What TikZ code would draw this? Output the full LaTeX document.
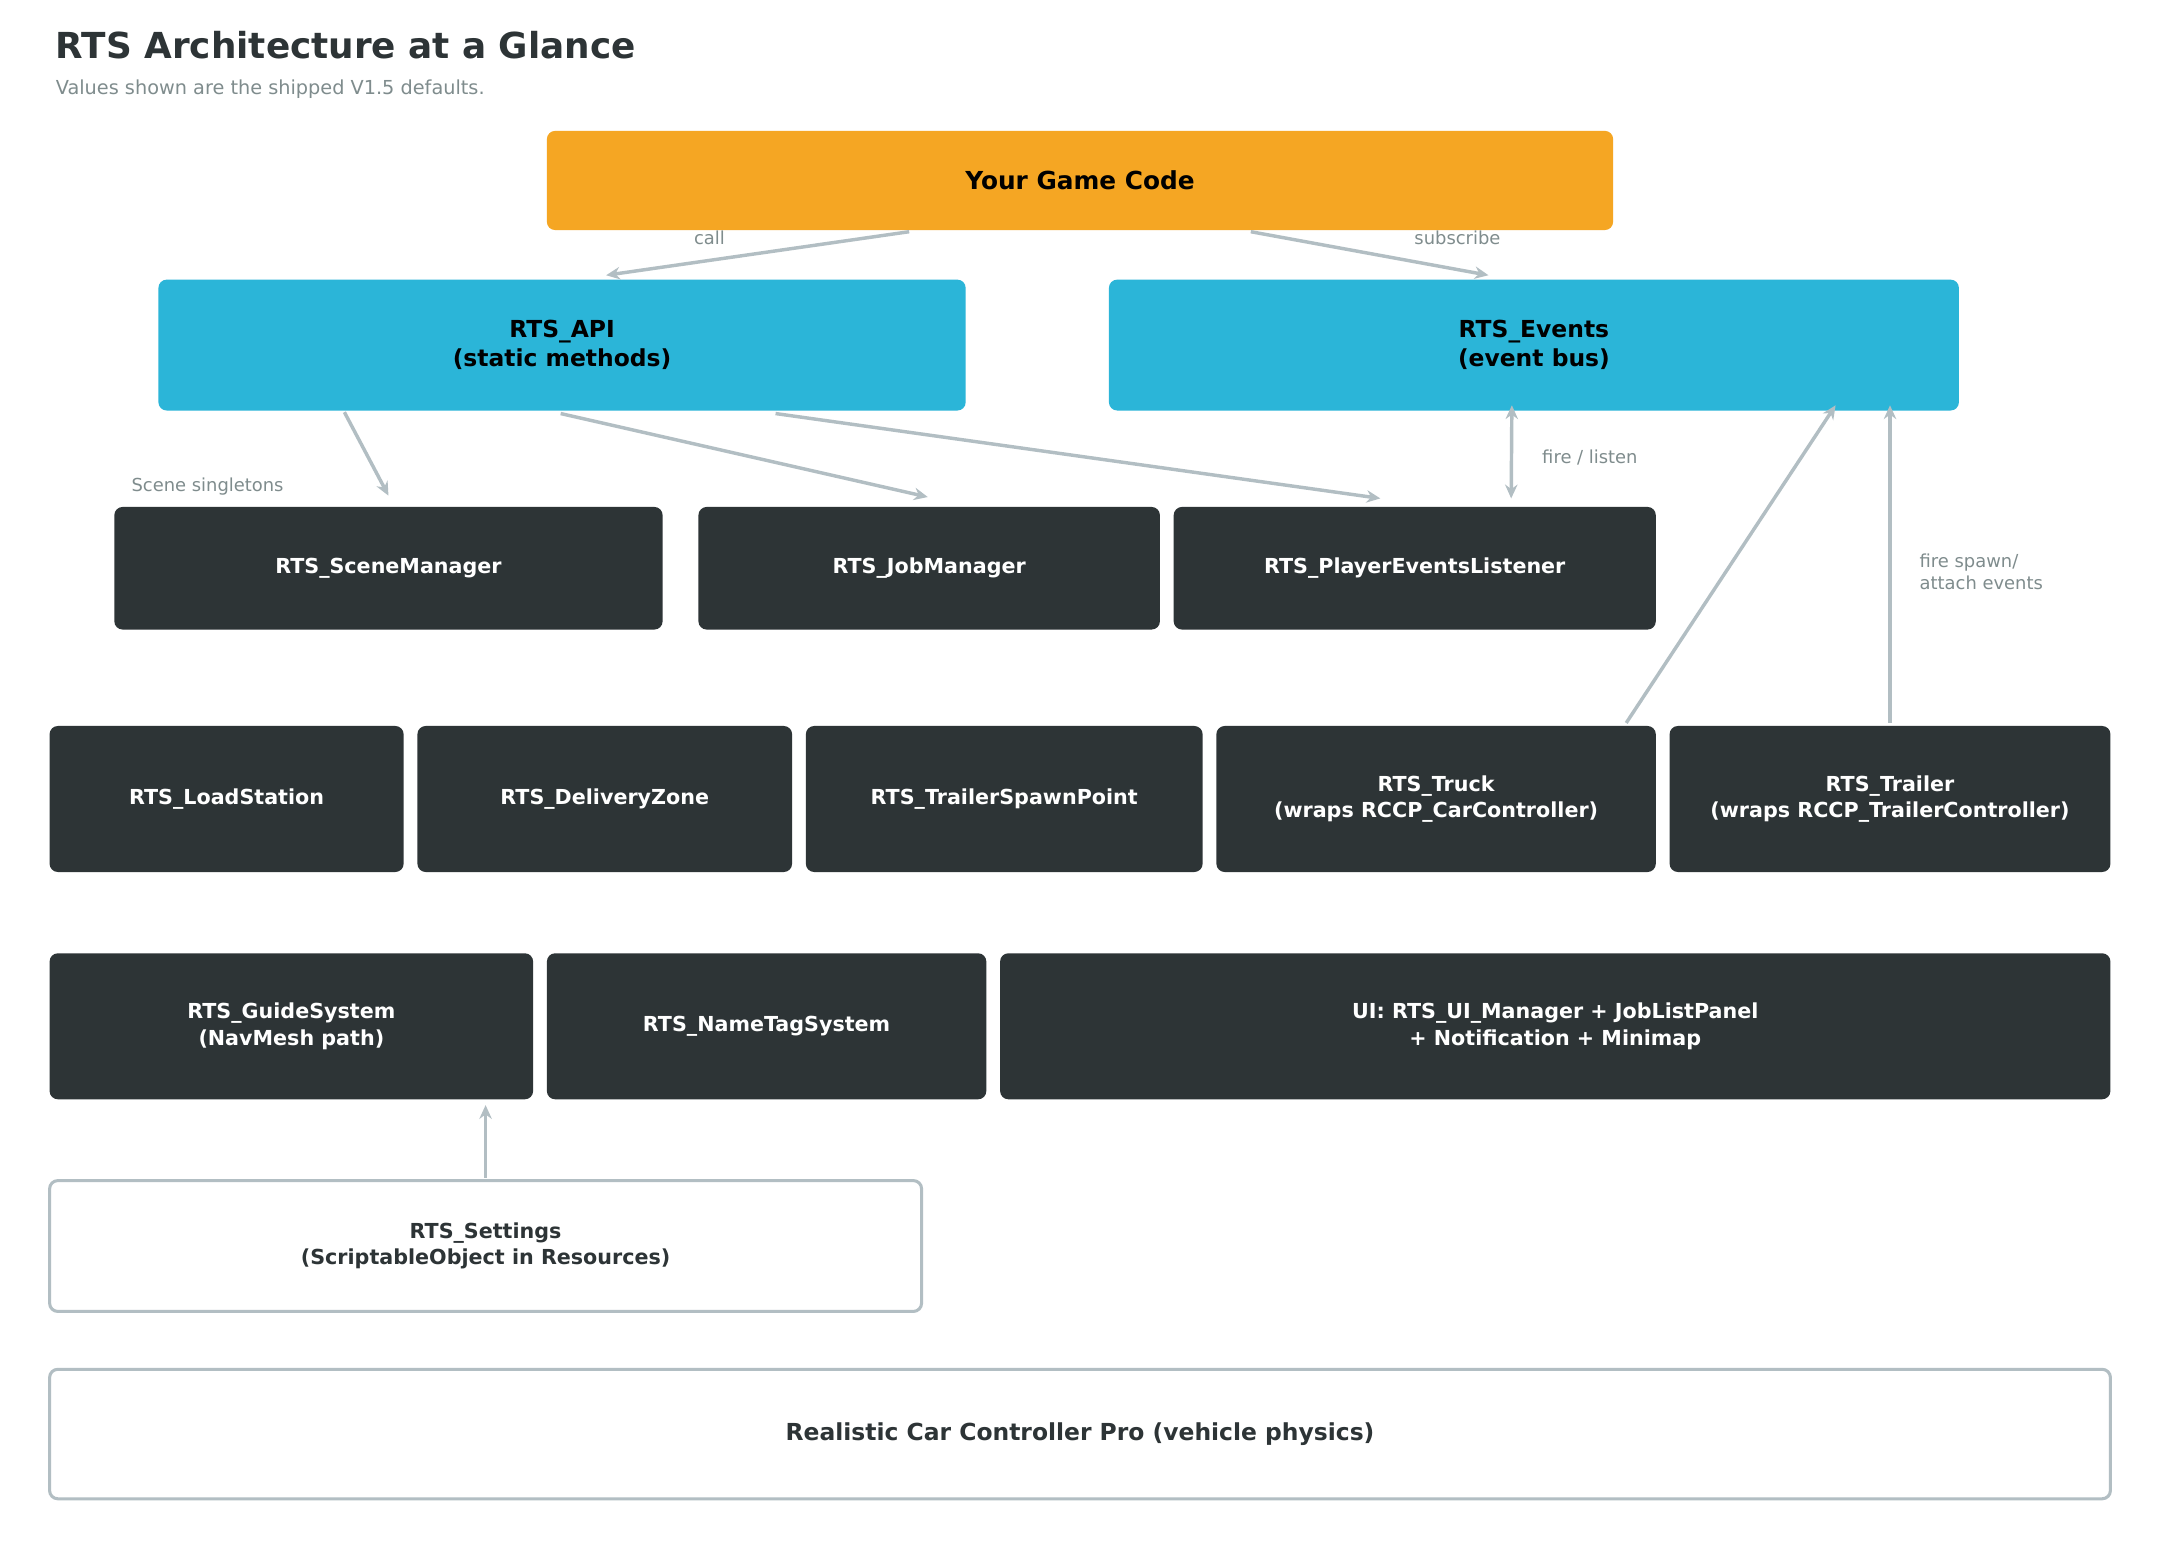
\documentclass[tikz,border=0pt]{standalone}
\usepackage{fontspec}
\setmainfont{DejaVu Sans}
\usetikzlibrary{calc,arrows.meta}
\definecolor{gameorange}{HTML}{F5A623}
\definecolor{apicyan}{HTML}{2BB5D8}
\definecolor{darkbox}{HTML}{2D3436}
\definecolor{edgegray}{HTML}{B2BEC3}
\definecolor{labelgray}{HTML}{7F8C8D}
\tikzset{
  box/.style={rounded corners=6pt, inner sep=0pt, align=center, font=\fontsize{15}{19}\selectfont\bfseries},
  darkbox/.style={box, fill=darkbox, text=white},
  cyanbox/.style={box, fill=apicyan, text=black, font=\fontsize{17}{21}\selectfont\bfseries},
  outlinebox/.style={box, draw=edgegray, line width=2.2pt, fill=white, text=darkbox},
  flow/.style={draw=edgegray, line width=2.5pt, -{Stealth[length=10pt,width=9pt]}},
  note/.style={text=labelgray, font=\fontsize{13}{16}\selectfont, anchor=west, align=left},
}
\begin{document}
\begin{tikzpicture}[x=1pt,y=-1pt]
\useasboundingbox[fill=white] (0,0) rectangle (1568,1138);

% title
\node[anchor=west, text=darkbox, font=\fontsize{26}{30}\selectfont\bfseries] (title) at (37,33) {RTS Architecture at a Glance};
\node[anchor=west, text=labelgray, font=\fontsize{14}{17}\selectfont] (subtitle) at (37,65) {Values shown are the shipped V1.5 defaults.};

% top
\node[box, fill=gameorange, text=black, font=\fontsize{18}{22}\selectfont\bfseries, minimum width=774pt, minimum height=72pt] (game) at (784,131) {Your Game Code};
\node[cyanbox, minimum width=586pt, minimum height=95pt] (api) at (408,250.5) {RTS\_API\\(static methods)};
\node[cyanbox, minimum width=617pt, minimum height=95pt] (events) at (1113.5,250.5) {RTS\_Events\\(event bus)};

% scene singletons
\node[darkbox, minimum width=398pt, minimum height=89pt] (scene) at (282,412.5) {RTS\_SceneManager};
\node[darkbox, minimum width=335pt, minimum height=89pt] (jobs) at (674.5,412.5) {RTS\_JobManager};
\node[darkbox, minimum width=350pt, minimum height=89pt] (listener) at (1027,412.5) {RTS\_PlayerEventsListener};

% world objects
\node[darkbox, minimum width=257pt, minimum height=106pt] (load) at (164.5,580) {RTS\_LoadStation};
\node[darkbox, minimum width=272pt, minimum height=106pt] (delivery) at (439,580) {RTS\_DeliveryZone};
\node[darkbox, minimum width=288pt, minimum height=106pt] (spawn) at (729,580) {RTS\_TrailerSpawnPoint};
\node[darkbox, minimum width=319pt, minimum height=106pt] (truck) at (1042.5,580) {RTS\_Truck\\(wraps RCCP\_CarController)};
\node[darkbox, minimum width=320pt, minimum height=106pt] (trailer) at (1372,580) {RTS\_Trailer\\(wraps RCCP\_TrailerController)};

% systems
\node[darkbox, minimum width=351pt, minimum height=106pt] (guide) at (211.5,745) {RTS\_GuideSystem\\(NavMesh path)};
\node[darkbox, minimum width=319pt, minimum height=106pt] (nametag) at (556.5,745) {RTS\_NameTagSystem};
\node[darkbox, minimum width=806pt, minimum height=106pt] (ui) at (1129,745) {UI: RTS\_UI\_Manager + JobListPanel\\+ Notification + Minimap};

% bottom
\node[outlinebox, minimum width=633pt, minimum height=95pt] (settings) at (352.5,904.5) {RTS\_Settings\\(ScriptableObject in Resources)};
\node[outlinebox, font=\fontsize{17}{21}\selectfont\bfseries, minimum width=1496pt, minimum height=94pt] (rcc) at (784,1041) {Realistic Car Controller Pro (vehicle physics)};

% connectors
\draw[flow] ($(game.south)+(-124,1)$) -- ($(api.north)+(32,-3)$);
\draw[flow] ($(game.south)+(124,1)$) -- ($(events.north)+(-33,-3)$);
\node[note, anchor=center] (calllbl) at (515,173) {call};
\node[note, anchor=center] (sublbl) at (1058,173) {subscribe};

\draw[flow] ($(api.south)+(-158,1)$) -- ($(scene.north)+(0,-8)$);
\draw[flow] ($(api.south)+(-1,2)$) -- ($(jobs.north)+(-1,-7)$);
\draw[flow] ($(api.south)+(155,2)$) -- ($(listener.north)+(-25,-6)$);
\node[note] (scenelbl) at (92,353) {Scene singletons};

\draw[flow, {Stealth[length=10pt,width=9pt]}-{Stealth[length=10pt,width=9pt]}] ($(events.south)+(-16,-4)$) -- ($(listener.north)+(70,-6)$);
\node[note] (firelbl) at (1116,332) {fire / listen};

\draw[flow] ($(truck.north)+(138,-2)$) -- ($(events.south)+(219,-4)$);
\draw[flow] ($(trailer.north)+(0,-2)$) -- ($(events.south)+(258.5,-4)$);
\node[note] (spawnlbl) at (1390,415) {fire spawn/\\attach events};

\draw[flow] ($(settings.north)+(0,-1)$) -- ($(guide.south)+(141,4)$);

\end{tikzpicture}
\end{document}
